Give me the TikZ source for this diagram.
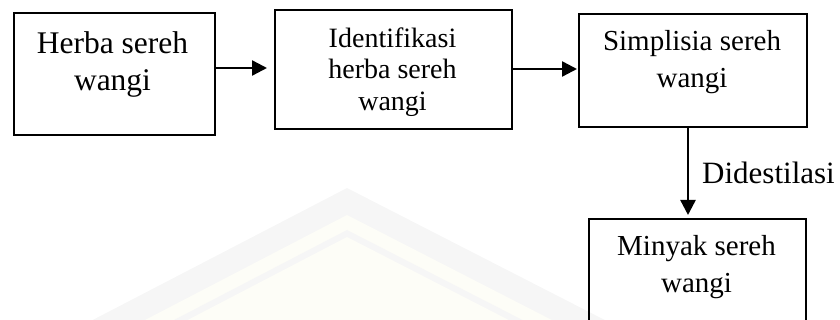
\documentclass[tikz,border=0pt]{standalone}
\usepackage{fontspec}
\setmainfont{Liberation Serif}
\usetikzlibrary{arrows.meta}
\definecolor{wmgrey}{HTML}{F6F6F6}
\definecolor{wmcream}{HTML}{FDFDF7}
\begin{document}
\begin{tikzpicture}[x=1pt,y=-1pt,
  boxnode/.style={draw=black,line width=2pt,inner sep=0pt,anchor=north west},
  txt/.style={inner sep=0pt,align=center},
  conn/.style={line width=2.4pt,-{Triangle[length=15pt,width=15pt]}}]
\useasboundingbox (0,0) rectangle (840,320);
% faint watermark
\fill[wmgrey] (347,188) -- (800,420) -- (-100,420) -- cycle;
\fill[wmcream] (347,215) -- (780,437) -- (-80,437) -- cycle;
\fill[wmgrey] (347,230) -- (770,447) -- (-70,447) -- cycle;
\fill[wmcream] (347,237) -- (760,449) -- (-60,449) -- cycle;
% boxes
\node[boxnode,minimum width=201pt,minimum height=122pt] (b1) at (13,12) {};
\node[boxnode,minimum width=237pt,minimum height=119pt] (b2) at (274,9) {};
\node[boxnode,minimum width=228pt,minimum height=113pt] (b3) at (578,13) {};
\node[boxnode,minimum width=217pt,minimum height=117pt] (b4) at (588,218) {};
% texts
\node[txt,font=\fontsize{31.5}{37}\selectfont] (t1) at (112.5,64.2) {Herba sereh\\wangi};
\node[txt,font=\fontsize{28}{31.5}\selectfont] (t2) at (392.5,72) {Identifikasi\\herba sereh\\wangi};
\node[txt,font=\fontsize{29}{37}\selectfont] (t3) at (692,61.8) {Simplisia sereh\\wangi};
\node[txt,font=\fontsize{29}{37}\selectfont] (t4) at (696.5,266.8) {Minyak sereh\\wangi};
% connectors
\draw[conn,shorten >=7pt] ([yshift=6pt]b1.east) -- ([yshift=6pt]b1.east -| b2.west);
\draw[conn,shorten >=1pt] ([yshift=0.5pt]b2.east) -- ([yshift=0.5pt]b2.east -| b3.west);
\draw[conn,shorten >=3pt] ([xshift=-5pt]b3.south) -- ([xshift=-5pt]b3.south |- b4.north)
  node[pos=0.62,anchor=base west,inner sep=0pt,xshift=13pt,font=\fontsize{31}{37}\selectfont] (lbl) {Didestilasi};
\end{tikzpicture}
\end{document}
